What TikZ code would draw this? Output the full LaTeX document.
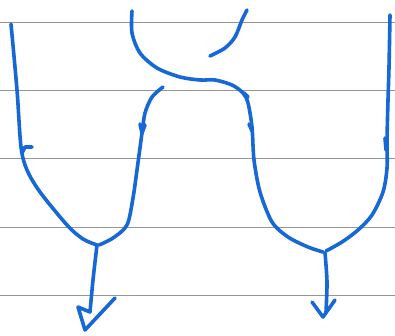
\documentclass[tikz,border=0pt]{standalone}
\usepackage{tikz}

\definecolor{ink}{RGB}{22,104,214}
\definecolor{ruleline}{RGB}{150,150,150}

\begin{document}
\begin{tikzpicture}[x=1pt,y=-1pt,
  pen/.style={draw=ink,line width=3.6pt,line cap=round,line join=round},
  ruled/.style={draw=ruleline,line width=1pt}]
\useasboundingbox (0,0) rectangle (395,335);
\fill[white] (0,0) rectangle (395,335);
\foreach \y in {22,90,158,227,295} {
  \draw[ruled] (0,\y) -- (395,\y);
}

\draw[pen] plot[smooth] coordinates {(11,24) (17,90) (21,147) (27,170) (40,192) (67,225) (83,239) (97,245)};
\draw[pen] (22,153) -- (25,147) -- (32,147);

\draw[pen] plot[smooth] coordinates {(163,87) (152,97) (145,113) (142,133) (137,170) (133,198) (127,225) (113,238) (99,245)};
\draw[pen] (140,124) -- (142,133) -- (145,125);

\draw[pen] plot[smooth] coordinates {(97,245) (93,280) (90,312)} -- (78,307) -- (85,330) -- (115,298);

\draw[pen] plot[smooth] coordinates {(132,11) (132,33) (140,53) (157,68) (180,77) (200,80) (215,80) (232,85) (243,93) (248,103) (252,127) (254,160) (260,192) (272,222) (288,237) (308,247) (323,252)};
\draw[pen] (244,93) -- (248,97);
\draw[pen] (249,124) -- (252,131);

\draw[pen] plot[smooth] coordinates {(247,10) (242,20) (235,37) (225,48) (210,56)};

\draw[pen] plot[smooth] coordinates {(390,15) (389,67) (388,100) (387,140) (387,168) (383,192) (372,215) (358,230) (342,242) (326,251)};
\draw[pen] (385,138) -- (386,150);

\draw[pen] plot[smooth] coordinates {(325,253) (327,282) (326,312)};
\draw[pen] (312,302) -- (323,317) -- (335,300);

\end{tikzpicture}
\end{document}
